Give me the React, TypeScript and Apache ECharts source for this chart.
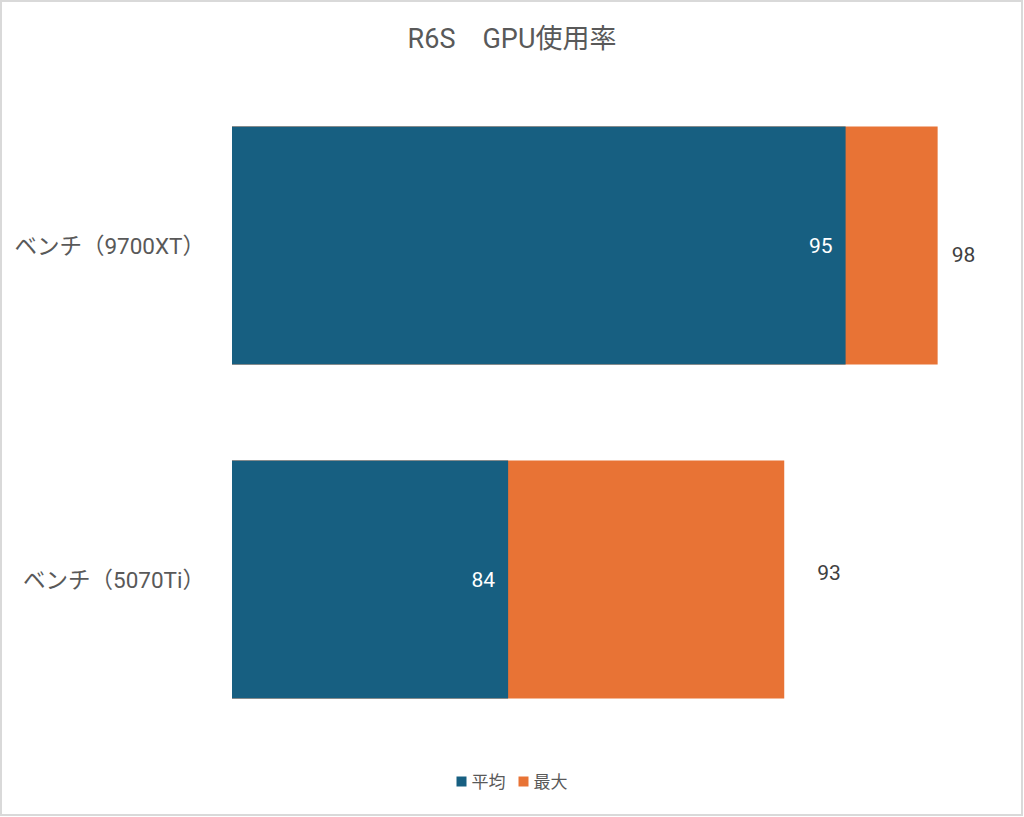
import React, { useEffect, useRef } from "react";
import * as echarts from "echarts";

const titleText = "R6S　GPU使用率";
const categories = ["ベンチ（9700XT）", "ベンチ（5070Ti）"];
const seriesNames = ["平均", "最大"];
const avgValues = [95, 84];
const maxValues = [98, 93];
const axisMin = 75;
const axisMax = 100;

// label layout tweaks (position only, not data)
const maxLabelOffsets: [number, number][] = [
  [9, 9],
  [28, -7],
];

const FONT = "Roboto, 'Noto Sans CJK JP', sans-serif";
const BLUE = "#175f81";
const ORANGE = "#e87335";

export default function App() {
  const ref = useRef<HTMLDivElement>(null);
  useEffect(() => {
    if (!ref.current) return;
    const chart = echarts.init(ref.current, undefined, { renderer: "svg" });
    chart.setOption({
      animation: false,
      backgroundColor: "#ffffff",
      textStyle: { fontFamily: FONT },
      title: {
        text: titleText,
        left: "center",
        top: 20,
        textStyle: { fontFamily: FONT, fontSize: 27, fontWeight: "normal", color: "#595959" },
      },
      legend: {
        data: seriesNames,
        bottom: 22,
        left: "center",
        icon: "rect",
        itemWidth: 10,
        itemHeight: 10,
        itemGap: 13,
        textStyle: { fontFamily: FONT, fontSize: 17, color: "#595959" },
      },
      grid: { left: 232, right: 25, top: 78.5, bottom: 70.5, containLabel: false },
      xAxis: {
        type: "value",
        min: axisMin,
        max: axisMax,
        show: false,
        splitLine: { show: false },
      },
      yAxis: {
        type: "category",
        data: categories,
        inverse: true,
        axisLine: { show: false },
        axisTick: { show: false },
        axisLabel: { fontFamily: FONT, fontSize: 22.5, color: "#595959", margin: 27 },
      },
      graphic: [
        {
          type: "rect",
          shape: { x: 1, y: 1, width: 1021, height: 814 },
          style: { fill: "none", stroke: "#d9d9d9", lineWidth: 2 },
          silent: true,
        },
      ],
      series: [
        {
          name: seriesNames[0],
          type: "bar",
          data: avgValues,
          barWidth: 238,
          barGap: "-100%",
          z: 3,
          itemStyle: { color: BLUE },
          label: {
            show: true,
            position: "insideRight",
            distance: 13,
            color: "#ffffff",
            fontFamily: FONT,
            fontSize: 21,
          },
        },
        {
          name: seriesNames[1],
          type: "bar",
          data: maxValues.map((v, i) => ({
            value: v,
            label: { offset: maxLabelOffsets[i] },
          })),
          barWidth: 238,
          barGap: "-100%",
          z: 2,
          itemStyle: { color: ORANGE },
          label: {
            show: true,
            position: "right",
            distance: 5,
            color: "#404040",
            fontFamily: FONT,
            fontSize: 21,
          },
        },
      ],
    });
    return () => chart.dispose();
  }, []);
  return (
    <div
      ref={ref}
      style={{ position: "absolute", left: 0, top: 0, width: 1024, height: 817 }}
    />
  );
}
